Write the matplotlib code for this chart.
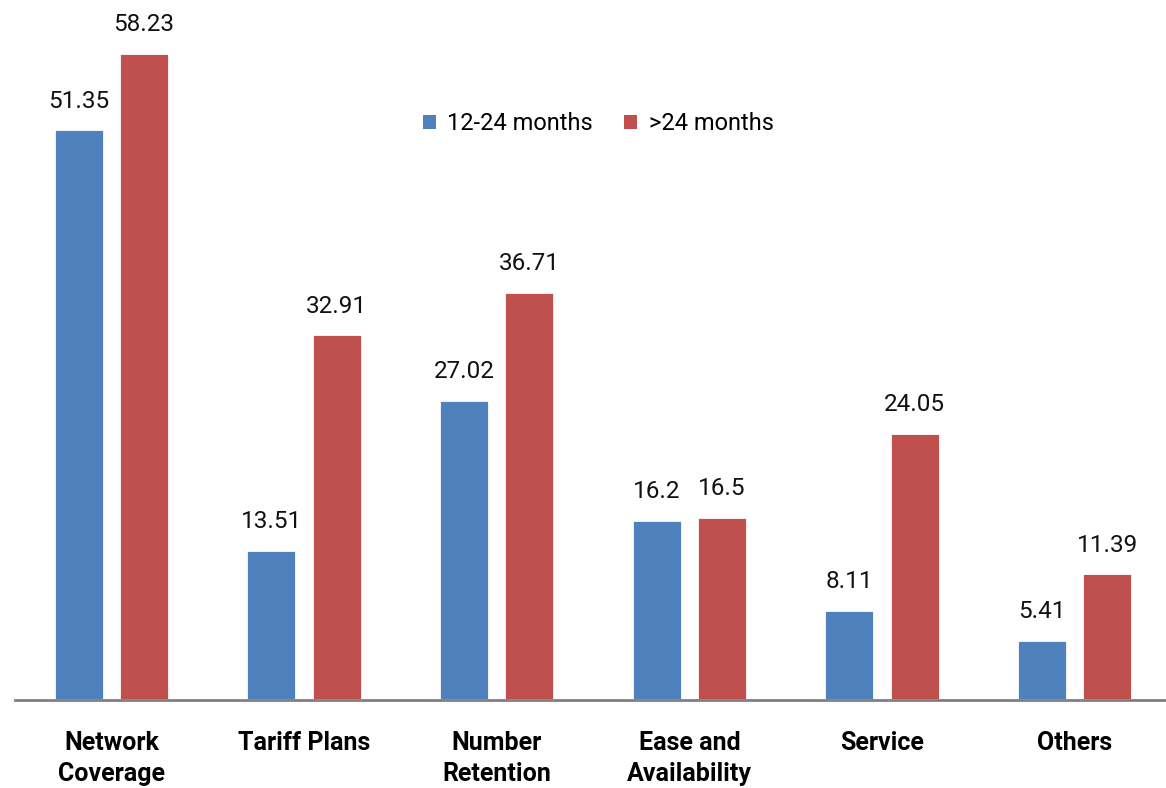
import numpy as np
from matplotlib import pyplot as plt

# data
categories = ["Network\nCoverage", "Tariff Plans", "Number\nRetention",
              "Ease and\nAvailability", "Service", "Others"]
short_term = [51.35, 13.51, 27.02, 16.2, 8.11, 5.41]
long_term = [58.23, 32.91, 36.71, 16.5, 24.05, 11.39]
series_names = ["12-24 months", ">24 months"]

blue = "#4F81BD"
red = "#C0504D"

plt.rcParams['font.family'] = ['Roboto', 'DejaVu Sans']

fig = plt.figure(figsize=(11.66, 7.88), dpi=100)
ax = fig.add_axes([15 / 1166, 88 / 788, 1156 / 1166, 700 / 788])

x = np.arange(len(categories))
w = 0.26
off = 0.169

b1 = ax.bar(x - off, short_term, w, color=blue, edgecolor="white", linewidth=2,
            label=series_names[0])
b2 = ax.bar(x + off, long_term, w, color=red, edgecolor="white", linewidth=2,
            label=series_names[1])

for bars, vals in ((b1, short_term), (b2, long_term)):
    for rect, v in zip(bars, vals):
        ax.annotate(str(v), (rect.get_x() + rect.get_width() / 2, rect.get_height()),
                    xytext=(0, 12), textcoords="offset points",
                    ha="center", va="bottom", fontsize=17.5, color="#111111")

ax.set_xlim(-0.5, len(categories) - 0.5)
ax.set_ylim(0, 63.0)

ax.set_xticks(x)
ax.set_xticklabels(categories, fontsize=18, fontweight="bold", linespacing=1.4)
ax.tick_params(axis="x", length=0, pad=22)
ax.set_yticks([])

for s in ["top", "right", "left"]:
    ax.spines[s].set_visible(False)
ax.spines["bottom"].set_color("#808080")
ax.spines["bottom"].set_linewidth(2)

leg = fig.legend(handles=[b1, b2], labels=series_names, loc="center",
                 bbox_to_anchor=(598 / 1166, 1 - 124 / 788), ncol=2, frameon=False,
                 fontsize=17, handlelength=0.55, handleheight=0.55,
                 handletextpad=0.5, columnspacing=1.3)
for h in leg.legend_handles:
    h.set_edgecolor("none")

fig.savefig("out.png", dpi=100)
